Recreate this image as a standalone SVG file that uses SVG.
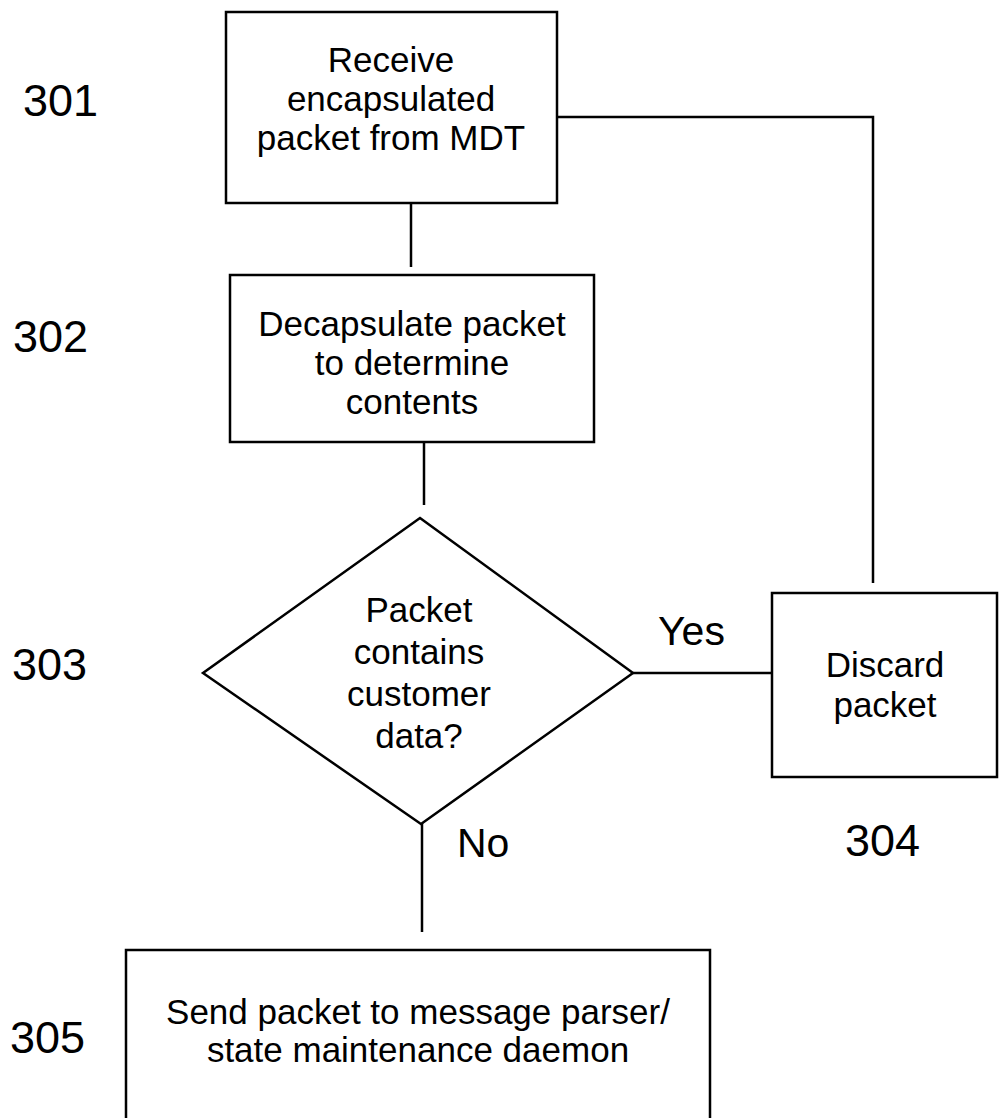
<svg xmlns="http://www.w3.org/2000/svg" width="999" height="1118" viewBox="0 0 999 1118">
<style>
.box{fill:#fff;stroke:#000;stroke-width:2.5}
.ln{fill:none;stroke:#000;stroke-width:2.5}
.t{font-family:"Liberation Sans",Arial,sans-serif;font-size:35px;fill:#000;text-anchor:middle}
.lbl{font-family:"Liberation Sans",Arial,sans-serif;font-size:45px;fill:#000}
.yn{font-family:"Liberation Sans",Arial,sans-serif;font-size:41px;fill:#000}
</style>
<rect width="999" height="1118" fill="#fff"/>
<g id="connectors">
<path class="ln" d="M411,203 V267"/>
<path class="ln" d="M424,442 V505"/>
<path class="ln" d="M633,673 H772"/>
<path class="ln" d="M557,117 H873 V583"/>
<path class="ln" d="M422,823 V932"/>
<text class="yn" x="658" y="645">Yes</text>
<text class="yn" x="457" y="857">No</text>
</g>
<g id="n301">
<rect class="box" x="226" y="12" width="331" height="191"/>
<text class="t" x="391" y="72">Receive</text>
<text class="t" x="391" y="111">encapsulated</text>
<text class="t" x="391" y="150">packet from MDT</text>
<text class="lbl" x="23" y="116">301</text>
</g>
<g id="n302">
<rect class="box" x="230" y="275" width="364" height="167"/>
<text class="t" x="412" y="336">Decapsulate packet</text>
<text class="t" x="412" y="375">to determine</text>
<text class="t" x="412" y="414">contents</text>
<text class="lbl" x="13" y="352">302</text>
</g>
<g id="n303">
<polygon class="box" points="420,518 633,673 421,824 203,673"/>
<text class="t" x="419" y="622">Packet</text>
<text class="t" x="419" y="664">contains</text>
<text class="t" x="419" y="706">customer</text>
<text class="t" x="419" y="748">data?</text>
<text class="lbl" x="12" y="680">303</text>
</g>
<g id="n304">
<rect class="box" x="772" y="593" width="225" height="184"/>
<text class="t" x="885" y="677">Discard</text>
<text class="t" x="885" y="717">packet</text>
<text class="lbl" x="845" y="856">304</text>
</g>
<g id="n305">
<path class="box" d="M126,1120 V950 H710 V1120"/>
<text class="t" x="418" y="1024">Send packet to message parser/</text>
<text class="t" x="418" y="1062">state maintenance daemon</text>
<text class="lbl" x="10" y="1053">305</text>
</g>
</svg>
